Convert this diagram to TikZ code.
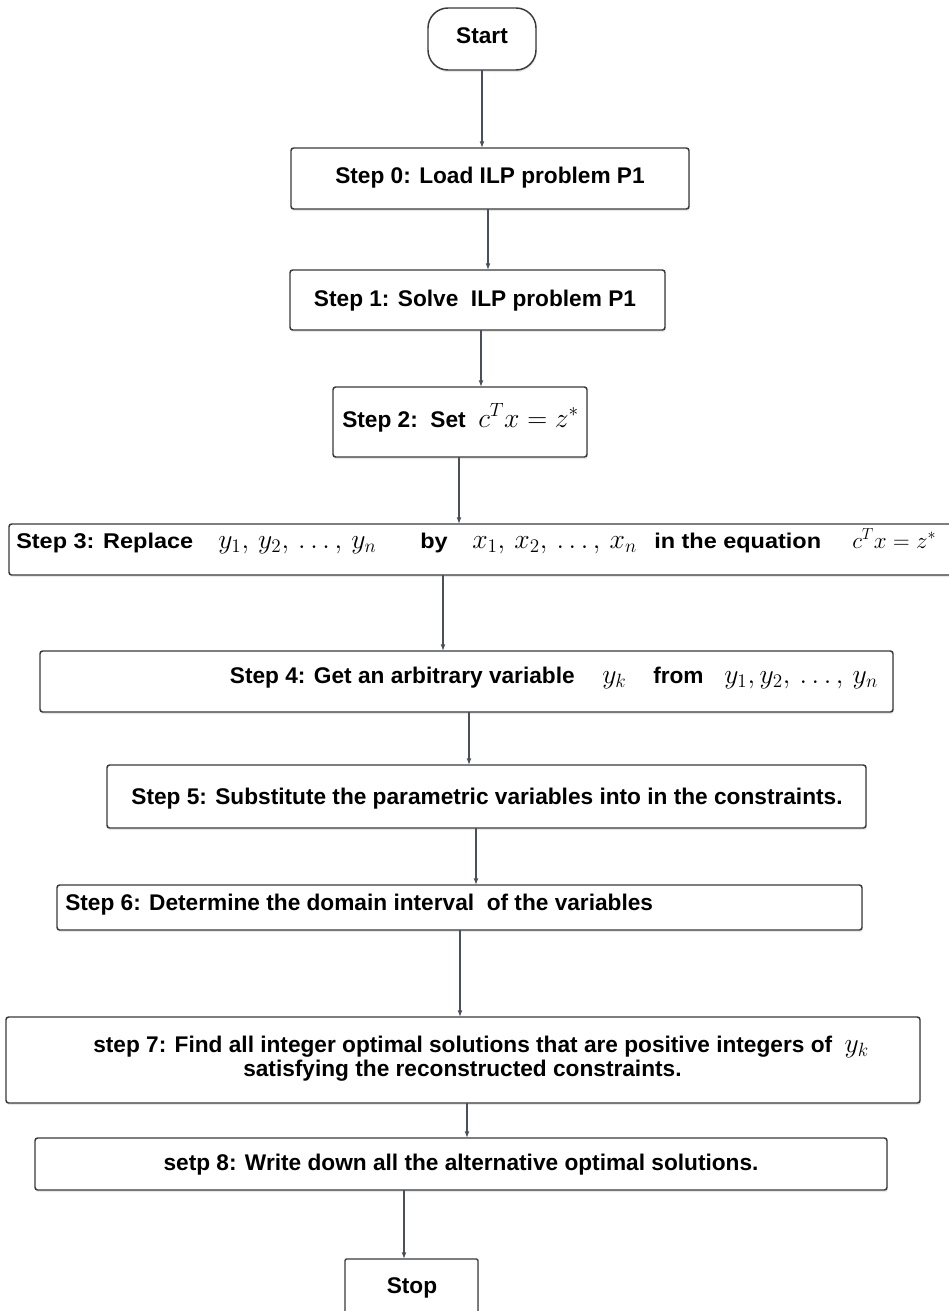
\documentclass[tikz,border=0pt]{standalone}
\usepackage{fontspec}
\setmainfont{Liberation Sans}
\newfontfamily\widefont[FakeStretch=1.1]{Liberation Sans}
\usetikzlibrary{shadows,arrows.meta,calc}
\definecolor{boxc}{HTML}{3A3A3A}
\definecolor{linec}{HTML}{4A505A}
\newdimen\pxu \pxu=0.75pt
\newcommand{\mth}[2]{{\fontsize{#1}{22}\selectfont$#2$}}
\newcommand{\cell}[2]{\makebox[#1\pxu][l]{#2}}
\tikzset{
  wh/.style 2 args={minimum width=#1*0.75pt, minimum height=#2*0.75pt},
  box/.style={draw=boxc, line width=1.1pt, fill=white, rounded corners=2pt,
     inner sep=0pt, outer sep=0pt,
     drop shadow={shadow xshift=0.6pt, shadow yshift=-1.6pt, opacity=0.18}},
  term/.style={box, rounded corners=15pt},
  txt/.style={font=\fontsize{17}{20}\selectfont\bfseries, inner sep=0pt},
  wtxt/.style={font=\fontsize{16}{20}\selectfont\widefont\bfseries, inner sep=0pt},
  arr/.style={draw=linec, line width=0.8pt, -{Latex[length=5pt,width=3.6pt]}}
}
\begin{document}
\begin{tikzpicture}[x=0.75pt,y=-0.75pt]
\useasboundingbox (0,0) rectangle (949,1311);
\fill[white] (0,0) rectangle (949,1311);
\clip (0,0) rectangle (949,1311);

% boxes
\node[term, wh={108}{62}] (start) at (482,39) {};
\node[box, wh={398}{61}] (s0) at (490,178.5) {};
\node[box, wh={375}{60}] (s1) at (477.5,300) {};
\node[box, wh={254}{70}] (s2) at (460,422) {};
\node[box, wh={960}{51}] (s3) at (489,549.5) {};
\node[box, wh={853}{61}] (s4) at (466.5,681.5) {};
\node[box, wh={759}{63}] (s5) at (486.5,796.5) {};
\node[box, wh={805}{45}] (s6) at (459.5,907.5) {};
\node[box, wh={914}{86}] (s7) at (463,1060) {};
\node[box, wh={852}{52}] (s8) at (461,1164) {};
\node[box, wh={133}{80}, rounded corners=1pt] (stop) at (411.5,1299) {};

% labels
\node[txt, anchor=base] (l0) at (482,43) {Start};
\node[txt, anchor=base] (l1) at (490,183) {Step 0: Load ILP problem P1};
\node[txt, anchor=base] (l2) at (475,306) {Step 1: Solve\ \ ILP problem P1};
\node[txt, anchor=base west] (l3) at (342,427) {\cell{136}{Step 2:\ \ Set}\mth{20.5}{c^Tx=z^*}};
\node[wtxt, anchor=base west] (l4) at (16,548) {\cell{202}{Step 3: Replace}\cell{202}{\mth{21}{y_1,\,y_2,\,\dots,\,y_n}}\cell{52}{by}\cell{182}{\mth{21}{x_1,\,x_2,\,\dots,\,x_n}}\cell{198}{in the equation}\mth{18.5}{c^Tx=z^*}};
\node[txt, anchor=base east] (l5) at (575,683) {Step 4: Get an arbitrary variable};
\node[txt, anchor=base west] (l6) at (602,683) {\cell{51}{\mth{21}{y_k}}\cell{71}{from}\mth{21}{y_1,y_2,\,\dots,\,y_n}};
\node[txt, anchor=base] (l7) at (487,804) {Step 5: Substitute the parametric variables into in the constraints.};
\node[txt, anchor=base west] (l8) at (65,910) {Step 6: Determine the domain interval\ \ of the variables};
\node[txt, anchor=base west] (l9) at (93,1052) {step 7: Find all integer optimal solutions that are positive integers of\ \ \mth{21}{y_k}};
\node[txt, anchor=base west] (l10) at (243,1076) {satisfying the reconstructed constraints.};
\node[txt, anchor=base] (l11) at (461,1170) {setp 8: Write down all the alternative optimal solutions.};
\node[txt, anchor=base] (l12) at (412,1293) {Stop};

% connector x positions
\coordinate (a0) at (482,0);
\coordinate (a1) at (488,0);
\coordinate (a2) at (481,0);
\coordinate (a3) at (459,0);
\coordinate (a4) at (443,0);
\coordinate (a5) at (469,0);
\coordinate (a6) at (476,0);
\coordinate (a7) at (460,0);
\coordinate (a8) at (467,0);
\coordinate (a9) at (404,0);

\draw[arr] (start.south -| a0) -- (s0.north -| a0);
\draw[arr] (s0.south -| a1) -- (s1.north -| a1);
\draw[arr] (s1.south -| a2) -- (s2.north -| a2);
\draw[arr] (s2.south -| a3) -- (s3.north -| a3);
\draw[arr] (s3.south -| a4) -- (s4.north -| a4);
\draw[arr] (s4.south -| a5) -- (s5.north -| a5);
\draw[arr] (s5.south -| a6) -- (s6.north -| a6);
\draw[arr] (s6.south -| a7) -- (s7.north -| a7);
\draw[arr] (s7.south -| a8) -- (s8.north -| a8);
\draw[arr] (s8.south -| a9) -- (stop.north -| a9);
\end{tikzpicture}
\end{document}
